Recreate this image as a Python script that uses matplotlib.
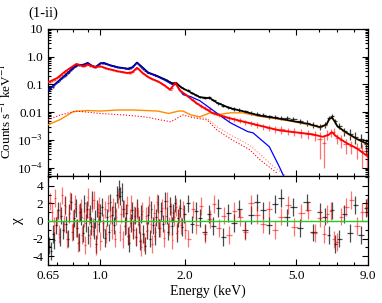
import numpy as np
import matplotlib.pyplot as plt
from matplotlib.ticker import FixedLocator, NullFormatter

plt.rcParams['font.family'] = ['Liberation Serif', 'DejaVu Serif']
plt.rcParams['mathtext.fontset'] = 'stix'

# ---- model curves (energy keV, counts/s/keV) ----
bk_mod_e = [0.65, 0.70, 0.75, 0.80, 0.83, 0.87, 0.90, 0.93, 0.96, 1.00, 1.03, 1.08, 1.15, 1.25,
            1.30, 1.35, 1.40, 1.48, 1.60, 1.70, 1.80, 1.86, 1.95, 2.04, 2.26, 2.46, 2.60, 2.90,
            3.20, 3.70, 4.20, 4.74, 5.50, 6.07, 6.40, 6.55, 6.70, 6.85, 7.00, 7.50, 8.20, 9.00]
bk_mod = [0.062, 0.12, 0.22, 0.40, 0.50, 0.52, 0.60, 0.48, 0.43, 0.58, 0.60, 0.50, 0.42, 0.37,
          0.42, 0.62, 0.45, 0.27, 0.20, 0.15, 0.11, 0.115, 0.075, 0.060, 0.035, 0.032, 0.022, 0.014,
          0.011, 0.0075, 0.0062, 0.0050, 0.0038, 0.0029, 0.0036, 0.0058, 0.0064, 0.0046, 0.0031,
          0.0019, 0.0011, 0.0007]

blue_e = [0.65, 0.70, 0.75, 0.80, 0.83, 0.87, 0.90, 0.93, 0.96, 1.00, 1.03, 1.08, 1.15, 1.25,
          1.30, 1.35, 1.40, 1.48, 1.60, 1.70, 1.80, 1.86, 1.97, 2.10, 2.26, 2.51, 2.90, 3.35,
          3.50, 4.00, 4.35, 4.50]
blue = [0.060, 0.115, 0.21, 0.39, 0.49, 0.51, 0.59, 0.47, 0.42, 0.57, 0.59, 0.49, 0.41, 0.36,
        0.41, 0.60, 0.44, 0.26, 0.19, 0.14, 0.10, 0.10, 0.043, 0.036, 0.026, 0.012, 0.0042, 0.0020,
        0.0018, 0.00057, 0.000105, 0.00005]

or_e = [0.65, 0.72, 0.80, 0.90, 1.00, 1.15, 1.30, 1.45, 1.60, 1.75, 1.90, 1.97, 2.10, 2.26,
        2.46, 2.60, 2.90, 3.20, 3.70, 4.20, 4.74, 5.50, 6.07, 6.40, 6.55, 6.70, 6.85, 7.00, 7.50,
        8.20, 9.00]
orange = [0.0035, 0.0055, 0.0105, 0.0115, 0.011, 0.012, 0.012, 0.0115, 0.011, 0.009, 0.011,
          0.011, 0.008, 0.0068, 0.0095, 0.008, 0.0095, 0.0095, 0.0071, 0.0059, 0.0048, 0.0036,
          0.0028, 0.0034, 0.0055, 0.0061, 0.0044, 0.0030, 0.0018, 0.00105, 0.00067]

rd_mod_e = [0.65, 0.70, 0.75, 0.82, 0.87, 0.90, 0.95, 1.00, 1.05, 1.15, 1.25, 1.30, 1.35, 1.42,
            1.50, 1.60, 1.70, 1.77, 1.85, 1.92, 2.00, 2.20, 2.50, 2.90, 3.35, 4.35, 5.70, 6.20,
            6.50, 6.70, 6.90, 7.50, 8.20, 9.00]
rd_mod = [0.12, 0.17, 0.30, 0.55, 0.45, 0.52, 0.43, 0.45, 0.38, 0.30, 0.26, 0.28, 0.40, 0.25,
          0.17, 0.13, 0.09, 0.065, 0.115, 0.06, 0.045, 0.021, 0.0095, 0.006, 0.0042, 0.0022,
          0.0016, 0.0013, 0.0015, 0.0019, 0.0014, 0.0008, 0.0005, 0.00025]

rdot_e = [0.65, 0.72, 0.82, 0.90, 1.00, 1.20, 1.40, 1.50, 1.60, 1.78, 1.97, 2.14, 2.40, 2.60,
          2.95, 3.40, 3.71, 4.30]
rdot = [0.0053, 0.008, 0.011, 0.010, 0.009, 0.008, 0.007, 0.0063, 0.0055, 0.0045, 0.008,
        0.0063, 0.0053, 0.0023, 0.0010, 0.00045, 0.00019, 0.00006]

odot_e = [2.00, 2.14, 2.40, 2.60, 2.95, 3.40, 3.71, 4.10, 4.60]
odot = [0.0075, 0.0068, 0.0060, 0.0030, 0.0014, 0.00065, 0.00030, 0.00012, 0.00005]

# ---- black data, dense soft band ----
bk_lo_e = [0.655, 0.665, 0.675, 0.685, 0.695, 0.705, 0.715, 0.725, 0.735, 0.745,
           0.755, 0.765, 0.775, 0.785, 0.795, 0.805, 0.815, 0.825, 0.835, 0.845,
           0.855, 0.865, 0.875, 0.885, 0.895, 0.905, 0.915, 0.925, 0.935, 0.945,
           0.955, 0.965, 0.975, 0.985, 0.995,
           1.01, 1.025, 1.04, 1.055, 1.07, 1.085, 1.10, 1.115, 1.13, 1.145,
           1.16, 1.175, 1.19, 1.205, 1.22, 1.235, 1.25, 1.265, 1.28, 1.295,
           1.31, 1.325, 1.34, 1.355, 1.37, 1.385, 1.40,
           1.42, 1.44, 1.46, 1.48, 1.50, 1.52, 1.54, 1.56, 1.58, 1.60, 1.62,
           1.645, 1.67, 1.695, 1.72, 1.745, 1.77, 1.795, 1.82, 1.845, 1.87, 1.895,
           1.92, 1.95, 1.98]
bk_lo_flux = [0.064, 0.070, 0.080, 0.092, 0.11, 0.125, 0.14, 0.16, 0.18, 0.20,
              0.22, 0.25, 0.28, 0.32, 0.37, 0.41, 0.45, 0.49, 0.50, 0.51,
              0.52, 0.52, 0.54, 0.57, 0.60, 0.58, 0.52, 0.49, 0.47, 0.44,
              0.43, 0.45, 0.49, 0.55, 0.59,
              0.60, 0.60, 0.57, 0.53, 0.51, 0.49, 0.47, 0.46, 0.45, 0.43,
              0.42, 0.42, 0.41, 0.40, 0.39, 0.38, 0.37, 0.37, 0.38, 0.41,
              0.46, 0.54, 0.61, 0.60, 0.52, 0.45, 0.40,
              0.35, 0.31, 0.28, 0.27, 0.255, 0.245, 0.235, 0.22, 0.21, 0.20, 0.19,
              0.175, 0.165, 0.155, 0.145, 0.135, 0.125, 0.115, 0.11, 0.115, 0.11, 0.095,
              0.085, 0.078, 0.070]
bk_lo_relerr = 0.05
bk_lo_chi = [-2.8, -3.4, -1.5, -2.2, -0.5, 1.2, -1.8, 0.6, -1.0, 1.8,
             -0.4, -2.0, 0.9, 2.2, -1.2, 0.3, 1.5, -0.8, -2.4, 1.0,
             0.5, -1.4, 2.0, -0.2, 1.3, -1.6, 0.8, -0.6, 2.4, -1.1,
             0.2, -2.6, 1.4, -0.3, 0.9,
             1.6, -0.9, -1.9, 0.4, -1.3, 2.1, 0.7, -0.5, 1.1, 3.0,
             3.6, 2.8, 3.3, 1.4, -0.6, 0.9, -1.7, -2.5, -0.2, 1.2,
             -1.0, 0.6, -1.8, 1.5, -0.4, -2.3, 0.8,
             -1.5, -2.8, -1.1, 0.7, -2.0, 1.3, -0.5, -1.7, 0.4, 1.9, -0.8,
             1.1, -0.3, 2.3, 0.6, -1.2, 1.7, -0.6, 0.9, 2.0, -1.4, 0.3,
             1.5, -0.7, 0.8]

# ---- black data, hard band ----
bk_hi_e = [2.05, 2.12, 2.19, 2.27, 2.35, 2.44, 2.53, 2.63, 2.74, 2.86,
           2.99, 3.13, 3.28, 3.44, 3.61, 3.79, 3.98, 4.18, 4.40, 4.63,
           4.88, 5.15, 5.44, 5.75, 6.05, 6.30, 6.52, 6.70, 6.88, 7.10,
           7.40, 7.75, 8.10, 8.50, 8.85]
bk_hi_flux = [0.062, 0.050, 0.042, 0.036, 0.033, 0.034, 0.028, 0.021, 0.017, 0.015,
              0.013, 0.012, 0.011, 0.0095, 0.0088, 0.0082, 0.0070, 0.0068, 0.0064, 0.0062,
              0.0058, 0.0047, 0.0042, 0.0036, 0.0030, 0.0036, 0.0064, 0.0075, 0.0048, 0.0032,
              0.0021, 0.0017, 0.0013, 0.0011, 0.0007]
bk_hi_err = [0.005, 0.004, 0.004, 0.0035, 0.0033, 0.0033, 0.003, 0.0026, 0.0022, 0.002,
             0.0018, 0.0016, 0.0015, 0.0014, 0.0013, 0.0013, 0.0012, 0.0012, 0.0012, 0.0011,
             0.0011, 0.001, 0.001, 0.0009, 0.0008, 0.0009, 0.0011, 0.0012, 0.001, 0.0008,
             0.0007, 0.0007, 0.0006, 0.0006, 0.0004]
bk_hi_chi = [2.0, -0.4, 1.1, 0.3, -1.3, 0.8, -0.6, 1.5, -1.8, 0.9,
             -0.2, 1.4, -1.0, 0.7, 2.1, 1.2, -0.5, 1.9, 2.6, 0.4,
             1.6, -0.8, 2.1, -1.3, 1.0, 0.5, -1.6, 1.2, -2.6, -2.0,
             0.8, -1.4, 1.8, -1.6, 1.5]

# ---- red data, dense soft band ----
rd_lo_e = [0.66, 0.67, 0.68, 0.69, 0.70, 0.71, 0.72, 0.73, 0.74, 0.75,
           0.76, 0.77, 0.78, 0.79, 0.80, 0.81, 0.82, 0.83, 0.84, 0.85,
           0.86, 0.87, 0.88, 0.89, 0.90, 0.91, 0.92, 0.93, 0.94, 0.95,
           0.96, 0.97, 0.98, 0.99, 1.00,
           1.02, 1.035, 1.05, 1.065, 1.08, 1.095, 1.11, 1.125, 1.14, 1.155,
           1.17, 1.185, 1.20, 1.215, 1.23, 1.245, 1.26, 1.275, 1.29, 1.305,
           1.32, 1.335, 1.35, 1.365, 1.38, 1.395, 1.41,
           1.43, 1.45, 1.47, 1.49, 1.51, 1.53, 1.55, 1.57, 1.59, 1.61, 1.63,
           1.655, 1.68, 1.705, 1.73, 1.755, 1.78, 1.805, 1.83, 1.855, 1.88, 1.905,
           1.935, 1.965, 1.995]
rd_lo_flux = [0.125, 0.13, 0.14, 0.15, 0.165, 0.18, 0.20, 0.22, 0.25, 0.28,
              0.31, 0.35, 0.39, 0.43, 0.47, 0.51, 0.54, 0.55, 0.52, 0.49,
              0.46, 0.46, 0.48, 0.51, 0.52, 0.50, 0.47, 0.45, 0.44, 0.43,
              0.43, 0.44, 0.45, 0.45, 0.45,
              0.42, 0.40, 0.38, 0.36, 0.35, 0.34, 0.33, 0.32, 0.31, 0.30,
              0.295, 0.29, 0.28, 0.275, 0.27, 0.265, 0.26, 0.26, 0.27, 0.29,
              0.32, 0.36, 0.40, 0.38, 0.33, 0.29, 0.26,
              0.24, 0.21, 0.19, 0.18, 0.17, 0.16, 0.15, 0.14, 0.135, 0.13, 0.12,
              0.105, 0.095, 0.085, 0.078, 0.070, 0.065, 0.075, 0.10, 0.115, 0.10, 0.070,
              0.058, 0.050, 0.045]
rd_lo_relerr = 0.06
rd_lo_chi = [2.2, 1.0, -0.6, 2.6, 0.4, -1.5, 1.2, 2.9, -0.3, 1.7,
             -2.1, 0.8, 2.3, -1.3, 0.2, 1.9, -0.8, -2.5, 0.9, 1.5,
             -1.6, 0.3, -2.7, 1.1, 2.7, 0.5, -1.9, 2.0, -0.7, 2.4,
             -2.9, -1.0, 1.0, 1.7, -2.3,
             -0.2, 1.3, -1.5, 2.0, 0.6, -1.0, 1.6, -2.0, 0.5, 2.5,
             -1.3, 0.8, -2.1, 1.4, -0.5, 1.8, -1.6, 0.3, 2.0, -0.9,
             0.7, -1.7, 1.2, 0.4, -1.4, -3.0, 1.1,
             -2.4, 0.6, -1.0, 1.8, -0.4, -2.6, 0.9, -1.2, 2.1, 0.2, -0.8,
             1.5, -1.9, 0.6, 2.3, -0.6, 1.0, -2.2, 0.4, 1.6, -1.1, 0.8,
             -0.5, 1.3, -1.0]

# ---- red data, hard band ----
rd_hi_e = [2.06, 2.13, 2.20, 2.28, 2.36, 2.45, 2.54, 2.64, 2.75, 2.87,
           3.00, 3.14, 3.29, 3.45, 3.62, 3.80, 3.99, 4.20, 4.42, 4.66,
           4.92, 5.20, 5.50, 5.80, 6.05, 6.25, 6.45, 6.62, 6.78, 6.95,
           7.20, 7.50, 7.85, 8.20, 8.60, 8.90]
rd_hi_flux = [0.038, 0.028, 0.022, 0.017, 0.014, 0.013, 0.0095, 0.0080, 0.0068, 0.0060,
              0.0055, 0.0050, 0.0044, 0.0040, 0.0036, 0.0031, 0.0028, 0.0025, 0.0024, 0.0021,
              0.0020, 0.0018, 0.0017, 0.0015, 0.0011, 0.0008, 0.0016, 0.0019, 0.0020, 0.0012,
              0.0010, 0.0007, 0.0006, 0.0005, 0.0004, 0.0003]
rd_hi_err = [0.004, 0.0035, 0.003, 0.0025, 0.0022, 0.002, 0.0017, 0.0015, 0.0013, 0.0012,
             0.0011, 0.001, 0.0009, 0.0009, 0.0008, 0.0008, 0.0007, 0.0007, 0.0007, 0.0006,
             0.0006, 0.0006, 0.0006, 0.0006, 0.0009, 0.0007, 0.0006, 0.0006, 0.0006, 0.0005,
             0.0005, 0.0004, 0.0003, 0.0003, 0.0003, 0.0002]
rd_hi_chi = [-2.0, 1.3, -0.5, 1.7, -1.5, 0.2, 1.9, -0.8, 0.6, -1.6,
             1.1, 0.4, -1.2, 2.0, 0.7, -0.4, 1.3, -1.0, 0.5, 1.8,
             -0.7, 0.9, 1.2, -1.4, 0.3, -1.5, 0.8, 1.1, -2.1, -2.4,
             0.5, 1.6, 2.4, -0.6, 1.0, 1.6]


def half_widths(e):
    e = np.asarray(e)
    mid = np.sqrt(e[1:] * e[:-1])
    lo = np.concatenate([[e[0] ** 2 / mid[0]], mid])
    hi = np.concatenate([mid, [e[-1] ** 2 / mid[-1]]])
    return [e - lo, hi - e]


bk_e = bk_lo_e + bk_hi_e
bk_flux = bk_lo_flux + bk_hi_flux
bk_err = [f * bk_lo_relerr for f in bk_lo_flux] + bk_hi_err
bk_chi = bk_lo_chi + bk_hi_chi
rd_e = rd_lo_e + rd_hi_e
rd_flux = rd_lo_flux + rd_hi_flux
rd_err = [f * rd_lo_relerr for f in rd_lo_flux] + rd_hi_err
rd_chi = rd_lo_chi + rd_hi_chi

fig = plt.figure(figsize=(3.82, 3.03), dpi=100)
ax1 = fig.add_axes([0.1257, 0.4191, 0.8377, 0.4852])
ax2 = fig.add_axes([0.1257, 0.1254, 0.8377, 0.2937], sharex=ax1)

# top panel: spectra
ax1.errorbar(bk_e, bk_flux, xerr=half_widths(bk_e), yerr=bk_err, fmt='none',
             ecolor='k', elinewidth=0.9, alpha=0.75, zorder=3)
ax1.errorbar(rd_e, rd_flux, xerr=half_widths(rd_e), yerr=rd_err, fmt='none',
             ecolor='red', elinewidth=0.9, alpha=0.55, zorder=4)
ax1.plot(or_e, orange, color='darkorange', lw=1.0, zorder=5)
ax1.plot(rdot_e, rdot, color='red', lw=0.8, ls=':', zorder=5)
ax1.plot(odot_e, odot, color='salmon', lw=0.8, ls=':', zorder=5)
ax1.plot(blue_e, blue, color='blue', lw=0.9, zorder=6)
ax1.plot(bk_mod_e, bk_mod, color='k', lw=1.2, zorder=5)
ax1.plot(rd_mod_e, rd_mod, color='red', lw=1.3, zorder=6)

ax1.set_xscale('log')
ax1.set_yscale('log')
ax1.set_xlim(0.65, 9.0)
ax1.set_ylim(5e-5, 10)
ax1.yaxis.set_major_locator(FixedLocator([1e-4, 1e-3, 1e-2, 0.1, 1.0, 10]))
ax1.set_yticklabels(['10$^{-4}$', '10$^{-3}$', '0.01', '0.1', '1.0', '10'])
ax1.yaxis.set_minor_locator(FixedLocator(
    [m * 10.0 ** p for p in range(-5, 1) for m in range(2, 10)]))
ax1.yaxis.set_minor_formatter(NullFormatter())
ax1.set_ylabel('Counts s$^{-1}$ keV$^{-1}$', fontsize=9.5)
ax1.yaxis.set_label_coords(-0.105, 0.44)
plt.setp(ax1.get_xticklabels(which='both'), visible=False)

# bottom panel: residuals
ax2.axhline(0, color='#22cc22', lw=1.0, zorder=5)
ax2.errorbar(bk_e, bk_chi, xerr=half_widths(bk_e), yerr=1.0, fmt='none',
             ecolor='k', elinewidth=0.9, alpha=0.7, zorder=3)
ax2.errorbar(rd_e, rd_chi, xerr=half_widths(rd_e), yerr=1.0, fmt='none',
             ecolor='red', elinewidth=0.9, alpha=0.55, zorder=4)
ax2.set_ylim(-5, 5.1)
ax2.set_yticks([-4, -2, 0, 2, 4])
ax2.set_yticklabels(['-4', '-2', '0', '2', '4'])
ax2.yaxis.set_minor_locator(FixedLocator([-5, -3, -1, 1, 3, 5]))
ax2.set_ylabel('χ', fontsize=11, labelpad=6)
ax2.set_xlabel('Energy (keV)', fontsize=10, labelpad=2)

ax2.xaxis.set_major_locator(FixedLocator([0.65, 1.0, 2.0, 5.0, 9.0]))
ax2.xaxis.set_minor_locator(FixedLocator([0.7, 0.8, 0.9, 3, 4, 6, 7, 8]))
ax2.xaxis.set_minor_formatter(NullFormatter())
ax2.set_xticklabels(['0.65', '1.0', '2.0', '5.0', '9.0'])

for ax in (ax1, ax2):
    ax.tick_params(which='both', direction='in', top=True, right=True, labelsize=9.5,
                   width=0.8)
    ax.tick_params(which='major', length=4)
    ax.tick_params(which='minor', length=2)
    for s in ax.spines.values():
        s.set_linewidth(0.9)

fig.text(0.075, 0.955, '(1-ii)', fontsize=10.5, va='center')

fig.savefig('out.png', dpi=100)
